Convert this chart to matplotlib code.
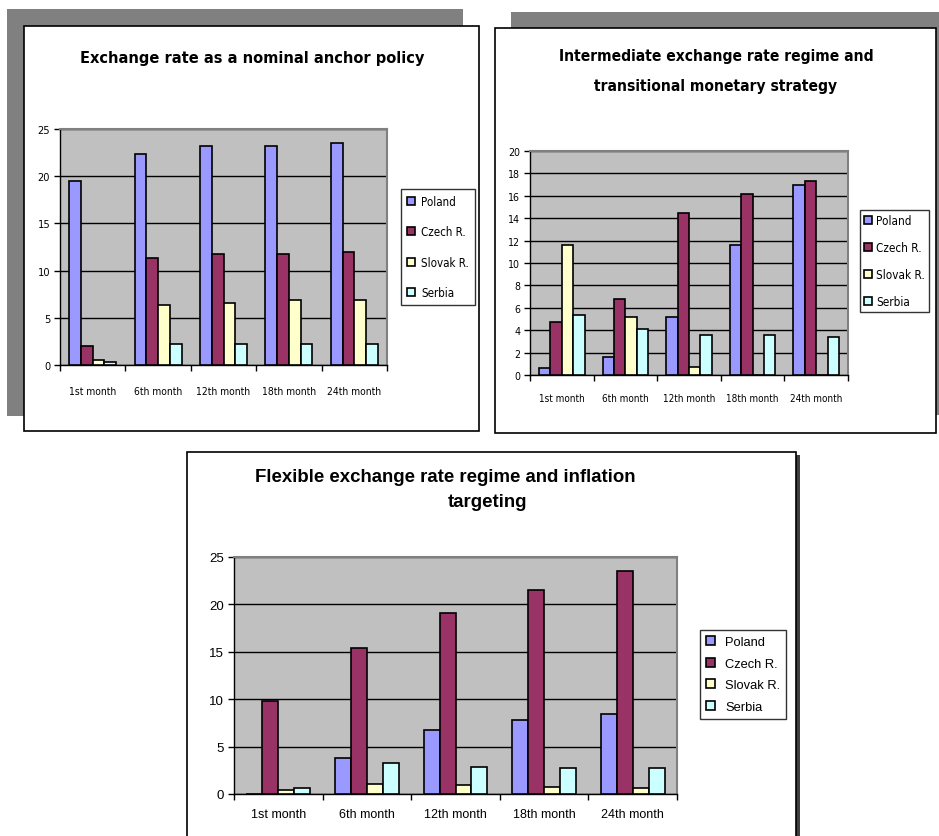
import numpy as np
import matplotlib
matplotlib.use('Agg')
import matplotlib.pyplot as plt
from matplotlib.patches import Rectangle, Patch

W, H = 939, 837

months = ['1st month', '6th month', '12th month', '18th month', '24th month']
countries = ['Poland', 'Czech R.', 'Slovak R.', 'Serbia']
colors = ['#9999FF', '#993366', '#FFFFCC', '#CCFFFF']

# exchange rate as a nominal anchor
anchor_poland = [19.5, 22.3, 23.2, 23.2, 23.5]
anchor_czech = [2.0, 11.3, 11.8, 11.8, 12.0]
anchor_slovak = [0.55, 6.4, 6.6, 6.9, 6.9]
anchor_serbia = [0.28, 2.2, 2.2, 2.2, 2.2]

# intermediate regime
inter_poland = [0.6, 1.6, 5.2, 11.6, 17.0]
inter_czech = [4.7, 6.8, 14.5, 16.2, 17.3]
inter_slovak = [11.6, 5.2, 0.7, 0.0, 0.0]
inter_serbia = [5.4, 4.1, 3.6, 3.6, 3.4]

# flexible regime / inflation targeting
flex_poland = [0.0, 3.8, 6.7, 7.8, 8.4]
flex_czech = [9.8, 15.4, 19.1, 21.5, 23.55]
flex_slovak = [0.4, 1.1, 0.9, 0.75, 0.6]
flex_serbia = [0.6, 3.3, 2.9, 2.75, 2.75]

NARROW = dict(family=['DejaVu Sans', 'Liberation Sans'], stretch='condensed')
ARIAL = dict(family=['Liberation Sans', 'DejaVu Sans'])

fig = plt.figure(figsize=(W / 100, H / 100), dpi=100)
fig.patch.set_facecolor('white')


def rect(x0, y0, x1, y1, fc, ec='none', lw=0, z=-10):
    fig.patches.append(Rectangle((x0 / W, 1 - y1 / H), (x1 - x0) / W, (y1 - y0) / H,
                                 transform=fig.transFigure, facecolor=fc,
                                 edgecolor=ec, linewidth=lw, zorder=z))


def px_axes(x0, y0, x1, y1):
    return fig.add_axes([x0 / W, 1 - y1 / H, (x1 - x0) / W, (y1 - y0) / H])


def panel(ax, series, ymax, ystep, font, fs, xpad, leg_box, leg_fs, leg_sp, leg_pad, leg_tp):
    x = np.arange(len(months))
    w = 0.18
    for i, vals in enumerate(series):
        ax.bar(x + (i - 1.5) * w, vals, w, color=colors[i], edgecolor='black',
               linewidth=1.2, zorder=3)
    ax.set_facecolor('#C0C0C0')
    ax.set_xlim(-0.5, 4.5)
    ax.set_ylim(0, ymax)
    ax.set_yticks(np.arange(0, ymax + 0.1, ystep))
    ax.yaxis.grid(True, color='black', linewidth=1)
    ax.set_axisbelow(True)
    ax.set_xticks(np.arange(-0.5, 5, 1))
    ax.set_xticklabels([])
    ax.set_xticks(x, minor=True)
    ax.set_xticklabels(months, minor=True, fontsize=fs, **font)
    ax.tick_params(axis='x', which='minor', length=0, pad=xpad)
    ax.tick_params(axis='x', which='major', length=4, width=1)
    ax.tick_params(axis='y', length=4, width=1, pad=3)
    ax.set_yticklabels([str(int(v)) for v in ax.get_yticks()], fontsize=fs + 0.5, **font)
    for s in ['top', 'right']:
        ax.spines[s].set_color('#808080')
        ax.spines[s].set_linewidth(1.5)
    for s in ['left', 'bottom']:
        ax.spines[s].set_color('black')
        ax.spines[s].set_linewidth(1)
    handles = [Patch(facecolor=c, edgecolor='black', linewidth=1.2) for c in colors]
    x0, y0, x1, y1 = leg_box
    prop = dict(size=leg_fs)
    prop.update(font)
    leg = fig.legend(handles, countries, loc='center',
                     bbox_to_anchor=((x0 + x1) / 2 / W, 1 - (y0 + y1) / 2 / H),
                     frameon=True, fancybox=False, edgecolor='black',
                     handlelength=0.7, handleheight=0.7, handletextpad=leg_tp,
                     labelspacing=leg_sp, borderpad=leg_pad, prop=prop)
    leg.get_frame().set_linewidth(1)
    return leg


# panel 1
rect(7, 10, 463, 417, '#808080')
rect(24, 27, 479, 432, 'white', 'black', 1.2)
ax1 = px_axes(60, 130, 387, 366)
panel(ax1, [anchor_poland, anchor_czech, anchor_slovak, anchor_serbia], 25, 5,
      NARROW, 7.4, 15, (403, 188, 473, 308), 8.3, 1.5, 0.5, 0.5)
fig.text(252 / W, 1 - 58 / H, 'Exchange rate as a nominal anchor policy',
         ha='center', va='center', fontsize=11.7, fontweight='bold', **NARROW)

# panel 2
rect(511, 13, 939, 416, '#808080')
rect(495, 29, 936, 434, 'white', 'black', 1.2)
ax2 = px_axes(530, 152, 848, 376)
panel(ax2, [inter_poland, inter_czech, inter_slovak, inter_serbia], 20, 2,
      NARROW, 7.1, 13, (861, 211, 928, 313), 8.4, 1.2, 0.35, 0.4)
fig.text(716 / W, 1 - 57 / H, 'Intermediate exchange rate regime and',
         ha='center', va='center', fontsize=11.2, fontweight='bold', **NARROW)
fig.text(716 / W, 1 - 87 / H, 'transitional monetary strategy',
         ha='center', va='center', fontsize=11.2, fontweight='bold', **NARROW)

# panel 3
rect(796, 456, 800, 837, '#404040')
rect(187, 453, 796, 845, 'white', 'black', 1.2)
ax3 = px_axes(234, 558, 677, 795)
panel(ax3, [flex_poland, flex_czech, flex_slovak, flex_serbia], 25, 5,
      ARIAL, 9, 10, (698, 631, 788, 720), 9.3, 0.75, 0.45, 0.8)
fig.text(445 / W, 1 - 478 / H, 'Flexible exchange rate regime and inflation',
         ha='center', va='center', fontsize=13.4, fontweight='bold', **ARIAL)
fig.text(487 / W, 1 - 503 / H, 'targeting',
         ha='center', va='center', fontsize=13.4, fontweight='bold', **ARIAL)

fig.savefig('out.png', dpi=100)
